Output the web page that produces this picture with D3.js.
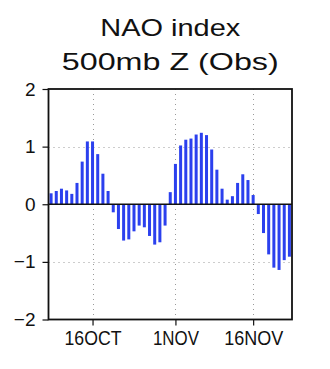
<!DOCTYPE html>
<html>
<head>
<meta charset="utf-8">
<script src="https://cdn.jsdelivr.net/npm/d3@7"></script>
<style>
  html, body { margin: 0; padding: 0; background: #fff; }
  svg { display: block; }
  text { font-family: "Liberation Sans", Arial, sans-serif; fill: #111; }
</style>
</head>
<body>
<svg id="chart" width="330" height="369"></svg>
<script>
// Daily NAO index (500mb height, observed), 8 Oct – 23 Nov
const firstDay = new Date(Date.UTC(2023, 9, 8));
const lastDay = new Date(Date.UTC(2023, 10, 23));
const naoValues = [
  0.19, 0.23, 0.27, 0.24, 0.18, 0.37, 0.74, 1.09, 1.09, 0.87, 0.53, 0.23,
  -0.14, -0.43, -0.63, -0.61, -0.47, -0.37, -0.40, -0.55, -0.70, -0.66, -0.37,
  0.21, 0.70, 1.02, 1.12, 1.14, 1.21, 1.24, 1.20, 0.95, 0.60, 0.27, 0.08,
  0.14, 0.37, 0.52, 0.42, 0.16,
  -0.17, -0.50, -0.87, -1.10, -1.14, -0.97, -0.91
];
const xTickDates = [
  new Date(Date.UTC(2023, 9, 16)),
  new Date(Date.UTC(2023, 10, 1)),
  new Date(Date.UTC(2023, 10, 16))
];
const xTickLabels = ["16OCT", "1NOV", "16NOV"];
const yTicks = [-2, -1, 0, 1, 2];
const yTickLabels = ["\u22122", "\u22121", "0", "1", "2"];
const titleLines = ["NAO index", "500mb Z (Obs)"];

const days = d3.utcDay.range(firstDay, d3.utcDay.offset(lastDay, 1));
const data = days.map((d, i) => ({ date: d, value: naoValues[i] }));

const svg = d3.select("#chart");
const plotL = 48.5, plotR = 292, plotT = 89, plotB = 319.5;

const x = d3.scaleUtc()
  .domain([d3.utcHour.offset(firstDay, -12), d3.utcHour.offset(lastDay, 12)])
  .range([plotL, plotR]);
const y = d3.scaleLinear().domain([-2, 2]).range([plotB, plotT]);

// dotted grid
const grid = svg.append("g")
  .attr("stroke", "#9a9a9a").attr("stroke-width", 1)
  .attr("stroke-dasharray", "1,4");
grid.selectAll("line.v").data(xTickDates).join("line")
  .attr("x1", d => Math.round(x(d)) + 0.5).attr("x2", d => Math.round(x(d)) + 0.5)
  .attr("y1", plotT).attr("y2", plotB);
grid.selectAll("line.h").data([-1, 1]).join("line")
  .attr("x1", plotL).attr("x2", plotR)
  .attr("y1", d => Math.round(y(d)) + 0.5).attr("y2", d => Math.round(y(d)) + 0.5);

// bars
const barW = 3;
svg.append("g").attr("fill", "#2b40ee")
  .selectAll("rect").data(data).join("rect")
  .attr("x", d => x(d.date) - barW / 2)
  .attr("width", barW)
  .attr("y", d => Math.min(y(d.value), y(0)))
  .attr("height", d => Math.abs(y(d.value) - y(0)));

// zero line
svg.append("line")
  .attr("x1", plotL).attr("x2", plotR)
  .attr("y1", y(0)).attr("y2", y(0))
  .attr("stroke", "#111").attr("stroke-width", 1.6);

// axes
const yAxis = d3.axisLeft(y).tickValues(yTicks)
  .tickFormat((d, i) => yTickLabels[i]).tickSize(6).tickPadding(7);
const gy = svg.append("g").attr("transform", `translate(${plotL},0)`).call(yAxis);
gy.select(".domain").remove();
gy.selectAll(".tick line").attr("stroke", "#111").attr("stroke-width", 1.2);
gy.selectAll(".tick text").attr("font-size", 19).attr("fill", "#222")
  .attr("font-family", "Liberation Sans, Arial, sans-serif");

const xAxis = d3.axisBottom(x).tickValues(xTickDates)
  .tickFormat((d, i) => xTickLabels[i]).tickSize(6).tickPadding(5);
const gx = svg.append("g").attr("transform", `translate(0,${plotB})`).call(xAxis);
gx.select(".domain").remove();
gx.selectAll(".tick line").attr("stroke", "#111").attr("stroke-width", 1.2);
const xLabelWidths = [57, 46, 59];
gx.selectAll(".tick text").attr("font-size", 20).attr("fill", "#222")
  .attr("font-family", "Liberation Sans, Arial, sans-serif")
  .attr("textLength", (d, i) => xLabelWidths[i])
  .attr("lengthAdjust", "spacingAndGlyphs");

// frame
svg.append("rect")
  .attr("x", plotL).attr("y", plotT)
  .attr("width", plotR - plotL).attr("height", plotB - plotT)
  .attr("fill", "none").attr("stroke", "#111").attr("stroke-width", 1.8);

// title
const cx = (plotL + plotR) / 2;
const titleWidths = [140, 217];
const titleBase = [36, 70];
svg.selectAll("text.title").data(titleLines).join("text")
  .attr("class", "title")
  .attr("x", cx).attr("y", (d, i) => titleBase[i])
  .attr("text-anchor", "middle")
  .attr("font-size", 24)
  .attr("textLength", (d, i) => titleWidths[i])
  .attr("lengthAdjust", "spacingAndGlyphs")
  .text(d => d);
</script>
</body>
</html>
